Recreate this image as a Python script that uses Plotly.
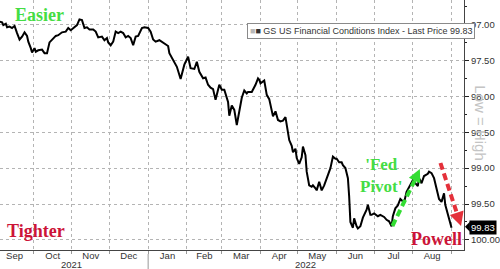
import plotly.graph_objects as go

# ---- data (GS US Financial Conditions Index) ----
dates = [
    "2021-09-04", "2021-09-06", "2021-09-07", "2021-09-09", "2021-09-10", "2021-09-12", "2021-09-14", "2021-09-16",
    "2021-09-18", "2021-09-20", "2021-09-22", "2021-09-24", "2021-09-26", "2021-09-27", "2021-09-29", "2021-09-30",
    "2021-10-02", "2021-10-03", "2021-10-05", "2021-10-08", "2021-10-10", "2021-10-12", "2021-10-14", "2021-10-16",
    "2021-10-19", "2021-10-21", "2021-10-24", "2021-10-27", "2021-10-29", "2021-10-31",
    "2021-11-03", "2021-11-05", "2021-11-07", "2021-11-09", "2021-11-11", "2021-11-13", "2021-11-15", "2021-11-18",
    "2021-11-20", "2021-11-22", "2021-11-25", "2021-11-27", "2021-11-29", "2021-11-30",
    "2021-12-02", "2021-12-04", "2021-12-06", "2021-12-08", "2021-12-10", "2021-12-12", "2021-12-14", "2021-12-16",
    "2021-12-18", "2021-12-20", "2021-12-22", "2021-12-24", "2021-12-27", "2021-12-29",
    "2022-01-01", "2022-01-03", "2022-01-05", "2022-01-07", "2022-01-10", "2022-01-12", "2022-01-14", "2022-01-17",
    "2022-01-18", "2022-01-21", "2022-01-24", "2022-01-27", "2022-01-30",
    "2022-02-02", "2022-02-04", "2022-02-07", "2022-02-09", "2022-02-11", "2022-02-14", "2022-02-16", "2022-02-18",
    "2022-02-20", "2022-02-22", "2022-02-24", "2022-02-26", "2022-02-27",
    "2022-03-01", "2022-03-03", "2022-03-06", "2022-03-07", "2022-03-09", "2022-03-11", "2022-03-13", "2022-03-15",
    "2022-03-17", "2022-03-19", "2022-03-21", "2022-03-22", "2022-03-25", "2022-03-28", "2022-03-30", "2022-03-31",
    "2022-04-01", "2022-04-04", "2022-04-06", "2022-04-08", "2022-04-10", "2022-04-11", "2022-04-13", "2022-04-15",
    "2022-04-17", "2022-04-19", "2022-04-21", "2022-04-22", "2022-04-24", "2022-04-26", "2022-04-27", "2022-04-29",
    "2022-04-30",
    "2022-05-02", "2022-05-04", "2022-05-05", "2022-05-07", "2022-05-08", "2022-05-10", "2022-05-12", "2022-05-13",
    "2022-05-15", "2022-05-16", "2022-05-18", "2022-05-20", "2022-05-22", "2022-05-24", "2022-05-27", "2022-05-29",
    "2022-05-31",
    "2022-06-01", "2022-06-03", "2022-06-05", "2022-06-06", "2022-06-08", "2022-06-10", "2022-06-11", "2022-06-12",
    "2022-06-14", "2022-06-15", "2022-06-17", "2022-06-18", "2022-06-20", "2022-06-22", "2022-06-25", "2022-06-26",
    "2022-06-28", "2022-06-29",
    "2022-07-01", "2022-07-04", "2022-07-06", "2022-07-09", "2022-07-11", "2022-07-13", "2022-07-15", "2022-07-16",
    "2022-07-18", "2022-07-20", "2022-07-22", "2022-07-25", "2022-07-27", "2022-07-30",
    "2022-08-01", "2022-08-03", "2022-08-05", "2022-08-06", "2022-08-08", "2022-08-10", "2022-08-13", "2022-08-14",
    "2022-08-16", "2022-08-18", "2022-08-20", "2022-08-22", "2022-08-24", "2022-08-26", "2022-08-27", "2022-08-29",
    "2022-08-31", "2022-09-01",
]
values = [
    96.96, 96.97, 97.01, 96.99, 97.04, 97.03, 97.05, 97.02,
    97.12, 97.21, 97.17, 97.11, 97.16, 97.24, 97.33, 97.39,
    97.33, 97.38, 97.36, 97.35, 97.40, 97.40, 97.25, 97.21,
    97.16, 97.15, 97.11, 97.10, 97.05, 97.08,
    97.03, 97.01, 96.93, 96.94, 97.05, 97.04, 97.07, 97.07,
    97.10, 97.18, 97.17, 97.22, 97.19, 97.25,
    97.29, 97.24, 97.10, 97.12, 97.10, 97.12, 97.18, 97.16,
    97.19, 97.29, 97.17, 97.16, 97.05, 97.04,
    97.05, 97.10, 97.21, 97.24, 97.22, 97.24, 97.26, 97.30,
    97.40, 97.49, 97.59, 97.76, 97.56,
    97.45, 97.61, 97.62, 97.52, 97.66, 97.75, 97.74, 97.84,
    97.88, 97.90, 98.05, 97.91, 97.84,
    97.91, 97.91, 98.08, 98.27, 98.13, 98.19, 98.40, 98.23,
    98.02, 97.92, 97.96, 97.94, 97.94, 97.84, 97.75, 97.77,
    97.82, 97.78, 97.98, 98.04, 98.24, 98.28, 98.21, 98.33,
    98.35, 98.34, 98.29, 98.40, 98.61, 98.69, 98.78, 98.73,
    98.86,
    98.94, 98.85, 98.70, 98.82, 99.05, 99.24, 99.26, 99.24,
    99.28, 99.31, 99.19, 99.31, 99.24, 99.14, 99.00, 98.84,
    98.87,
    98.87, 98.92, 98.92, 98.96, 99.00, 99.14, 99.39, 99.75,
    99.83, 99.70, 99.81, 99.84, 99.81, 99.69, 99.58, 99.51,
    99.65, 99.65,
    99.63, 99.67, 99.65, 99.68, 99.72, 99.74, 99.81, 99.67,
    99.56, 99.52, 99.43, 99.48, 99.33, 99.22,
    99.17, 99.21, 99.25, 99.14, 99.21, 99.11, 99.08, 99.05,
    99.07, 99.14, 99.29, 99.43, 99.47, 99.35, 99.51, 99.64,
    99.74, 99.83,
]
series_name = "GS US Financial Conditions Index - Last Price"
year_labels = ["2021", "2022"]
year_label_dates = ["2021-11-01", "2022-05-07"]

NARROW = "Liberation Sans Narrow, Arial Narrow, Liberation Sans, Arial, sans-serif"
SERIF = "Liberation Serif, Times New Roman, serif"
GREEN_TXT = "#44dd44"
GREEN_ARW = "#33dd33"
RED_TXT = "#cc1438"
RED_ARW = "#e4303a"

fig = go.Figure()
fig.add_trace(go.Scatter(
    x=dates, y=values, mode="lines", name=series_name,
    line=dict(color="black", width=2), showlegend=False, hoverinfo="skip",
))

fig.update_layout(
    width=500, height=269,
    margin=dict(l=0, r=27, t=0, b=19),
    paper_bgcolor="white", plot_bgcolor="white",
    showlegend=False,
)

fig.update_xaxes(
    type="date", range=["2021-09-04 08:00", "2022-09-11"],
    dtick="M1", tick0="2021-09-01", ticklabelmode="period", tickformat="%b",
    showgrid=True, gridcolor="#b4b4b4", griddash="dot", gridwidth=1,
    showline=True, linecolor="#444444", linewidth=1,
    ticks="outside", ticklen=3, tickcolor="#999999",
    ticklabelstandoff=-6,
    tickfont=dict(family=NARROW, size=9.5, color="#333333"),
    zeroline=False,
)
fig.update_yaxes(
    side="right", range=[100.14, 96.66],
    tick0=97, dtick=0.5, tickformat=".2f",
    showgrid=True, gridcolor="#b4b4b4", griddash="dot", gridwidth=1,
    showline=True, linecolor="#444444", linewidth=1,
    ticks="outside", ticklen=4, tickcolor="#222222",
    minor=dict(tick0=97, dtick=0.25, ticks="outside", ticklen=2, tickcolor="#222222", showgrid=False),
    tickfont=dict(family=NARROW, size=9.5, color="#333333"),
    zeroline=False,
)

W, H = 473.0, 250.0
def px(x):
    return x / W
def py(y):
    return 1 - y / H

ann = []
ann.append(dict(text="Easier", x=px(13), y=py(15), xref="paper", yref="paper", xanchor="left", yanchor="middle",
                showarrow=False, font=dict(family=SERIF, size=18, color=GREEN_TXT, weight="bold")))
ann.append(dict(text="Tighter", x=px(5), y=py(231), xref="paper", yref="paper", xanchor="left", yanchor="middle",
                showarrow=False, font=dict(family=SERIF, size=18, color=RED_TXT, weight="bold")))
ann.append(dict(text="'Fed<br>Pivot'", x=px(389), y=py(175), xref="paper", yref="paper", xanchor="center", yanchor="middle",
                showarrow=False, align="center", font=dict(family=SERIF, size=17, color=GREEN_TXT, weight="bold")))
ann.append(dict(text="Powell", x=px(417), y=py(239), xref="paper", yref="paper", xanchor="left", yanchor="middle",
                showarrow=False, font=dict(family=SERIF, size=18, color=RED_TXT, weight="bold")))
ann.append(dict(text='<span style="color:#b8b8b8">■</span>■ ' + series_name + " " + f"{values[-1]:.2f}",
                x=px(252), y=py(31), xref="paper", yref="paper", xanchor="left", yanchor="middle",
                showarrow=False, bgcolor="white", bordercolor="#8a8a8a", borderwidth=1, borderpad=2,
                font=dict(family=NARROW, size=9, color="#333333")))
ann.append(dict(text=f"{values[-1]:.2f}", x=1, xshift=5, y=values[-1], xref="paper", yref="y",
                xanchor="left", yanchor="middle", showarrow=False, bgcolor="black", borderpad=1,
                font=dict(family=NARROW, size=9.5, color="white")))
ann.append(dict(text="Low = High", x=px(490), y=py(123), xref="paper", yref="paper", xanchor="center", yanchor="middle",
                textangle=90, showarrow=False, font=dict(family="Liberation Sans, Arial, sans-serif", size=15, color="#c4c4c4")))
for lbl, d in zip(year_labels, year_label_dates):
    ann.append(dict(text=lbl, x=d, y=py(264), xref="x", yref="paper", xanchor="center", yanchor="middle",
                    showarrow=False, font=dict(family=NARROW, size=9.5, color="#333333")))
fig.update_layout(annotations=ann)

shapes = []
# year separator
shapes.append(dict(type="line", xref="x", yref="paper", x0="2022-01-01", x1="2022-01-01",
                   y0=py(254), y1=py(269), line=dict(color="#999999", width=1)))
# price tag pointer
shapes.append(dict(type="path", xref="paper", yref="paper",
                   path=f"M {px(474)} {py(226.7)} L {px(479)} {py(221.7)} L {px(479)} {py(231.7)} Z",
                   fillcolor="black", line=dict(width=0)))
# green dashed arrow
shapes.append(dict(type="line", xref="paper", yref="paper", x0=px(400), y0=py(226), x1=px(422.6), y1=py(180.7),
                   line=dict(color=GREEN_ARW, width=4, dash="7px,4px")))
shapes.append(dict(type="path", xref="paper", yref="paper",
                   path=f"M {px(428)} {py(169)} L {px(428.5)} {py(183.6)} L {px(416.8)} {py(177.8)} Z",
                   fillcolor=GREEN_ARW, line=dict(width=0)))
# red dashed arrow
shapes.append(dict(type="line", xref="paper", yref="paper", x0=px(449), y0=py(163), x1=px(465.6), y1=py(212.7),
                   line=dict(color=RED_ARW, width=4, dash="7px,4px")))
shapes.append(dict(type="path", xref="paper", yref="paper",
                   path=f"M {px(470)} {py(226)} L {px(472.6)} {py(210.4)} L {px(458.6)} {py(215.0)} Z",
                   fillcolor=RED_ARW, line=dict(width=0)))
fig.update_layout(shapes=shapes)

fig.write_html("out.html")
